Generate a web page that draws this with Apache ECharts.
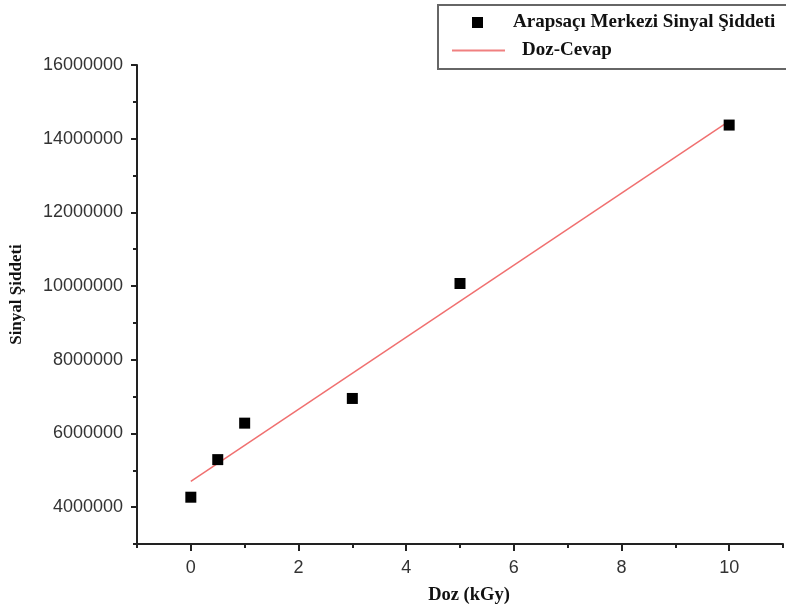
<!DOCTYPE html>
<html><head><meta charset="utf-8">
<script src="https://cdn.jsdelivr.net/npm/echarts@6/dist/echarts.min.js"></script>
<style>html,body{margin:0;padding:0;background:#fff}#c{width:786px;height:610px}</style>
</head><body><div id="c"></div>
<script>
var doseValues = [0, 0.5, 1, 3, 5, 10];
var signalValues = [4270000, 5290000, 6280000, 6950000, 10070000, 14370000];
var fitX = [0, 10];
var fitY = [4700000, 14480000];
var xMajorTicks = [0, 2, 4, 6, 8, 10];
var xMinorTicks = [-1, 1, 3, 5, 7, 9, 11];
var yMajorTicks = [4000000, 6000000, 8000000, 10000000, 12000000, 14000000, 16000000];
var yMinorTicks = [3000000, 5000000, 7000000, 9000000, 11000000, 13000000, 15000000];
var seriesNames = ['Arapsaçı Merkezi Sinyal Şiddeti', 'Doz-Cevap'];

var chart = echarts.init(document.getElementById('c'));
var axisColor = '#222';
var labelFont = {fontFamily: 'Liberation Sans', fontSize: 18, color: '#333'};
var serif = 'Liberation Serif';
chart.setOption({
  animation: false,
  grid: {left: 137, right: 3, top: 65, bottom: 65},
  xAxis: [{
    type: 'value', min: -1, max: 11, interval: 1,
    axisLine: {onZero: false, lineStyle: {color: axisColor, width: 2}},
    axisTick: {customValues: xMajorTicks, length: 7, lineStyle: {color: axisColor, width: 2}},
    axisLabel: Object.assign({customValues: xMajorTicks, margin: 15}, labelFont),
    splitLine: {show: false},
    name: 'Doz (kGy)', nameLocation: 'middle', nameGap: 42,
    nameTextStyle: {fontFamily: serif, fontWeight: 'bold', fontSize: 18.5, color: '#111', padding: [0, 0, 0, 18]}
  }, {
    type: 'value', min: -1, max: 11, position: 'bottom',
    axisLine: {show: false, onZero: false},
    axisTick: {customValues: xMinorTicks, length: 4, lineStyle: {color: axisColor, width: 2}},
    axisLabel: {show: false}, splitLine: {show: false}
  }],
  yAxis: [{
    type: 'value', min: 3000000, max: 16000000, interval: 1000000,
    axisLine: {show: true, onZero: false, lineStyle: {color: axisColor, width: 2}},
    axisTick: {show: true, customValues: yMajorTicks, length: 6, lineStyle: {color: axisColor, width: 2}},
    axisLabel: Object.assign({customValues: yMajorTicks, margin: 14, formatter: function (v) { return String(v); }}, labelFont),
    splitLine: {show: false},
    name: 'Sinyal Şiddeti', nameLocation: 'middle', nameGap: 112,
    nameTextStyle: {fontFamily: serif, fontWeight: 'bold', fontSize: 17, color: '#111', padding: [0, 0, 0, 20]}
  }, {
    type: 'value', min: 3000000, max: 16000000, position: 'left',
    axisLine: {show: false, onZero: false},
    axisTick: {show: true, customValues: yMinorTicks, length: 4, lineStyle: {color: axisColor, width: 2}},
    axisLabel: {show: false}, splitLine: {show: false}
  }],
  legend: [{
    left: 472, top: 13, orient: 'vertical', padding: 0,
    data: [{name: seriesNames[0], icon: 'rect'}], itemWidth: 11, itemHeight: 11,
    textStyle: {fontFamily: serif, fontWeight: 'bold', fontSize: 19, color: '#111', padding: [0, 0, 0, 25]}
  }, {
    left: 452, top: 41, orient: 'vertical', padding: 0,
    data: [{name: seriesNames[1], icon: 'rect'}], itemWidth: 53, itemHeight: 2,
    textStyle: {fontFamily: serif, fontWeight: 'bold', fontSize: 19, color: '#111', padding: [0, 0, 0, 12]}
  }],
  graphic: [{
    type: 'rect', left: 437, top: 4, z: -1,
    shape: {width: 360, height: 64},
    style: {fill: '#fff', stroke: '#666', lineWidth: 2}
  }],
  series: [{
    name: seriesNames[0], type: 'scatter', symbol: 'rect', symbolSize: 11,
    itemStyle: {color: '#000', opacity: 1},
    data: doseValues.map(function (d, i) { return [d, signalValues[i]]; }), z: 3
  }, {
    name: seriesNames[1], type: 'line', symbol: 'none',
    lineStyle: {color: '#f07070', width: 1.5}, itemStyle: {color: '#f08080'},
    data: fitX.map(function (d, i) { return [d, fitY[i]]; }), z: 2
  }]
});
</script></body></html>
